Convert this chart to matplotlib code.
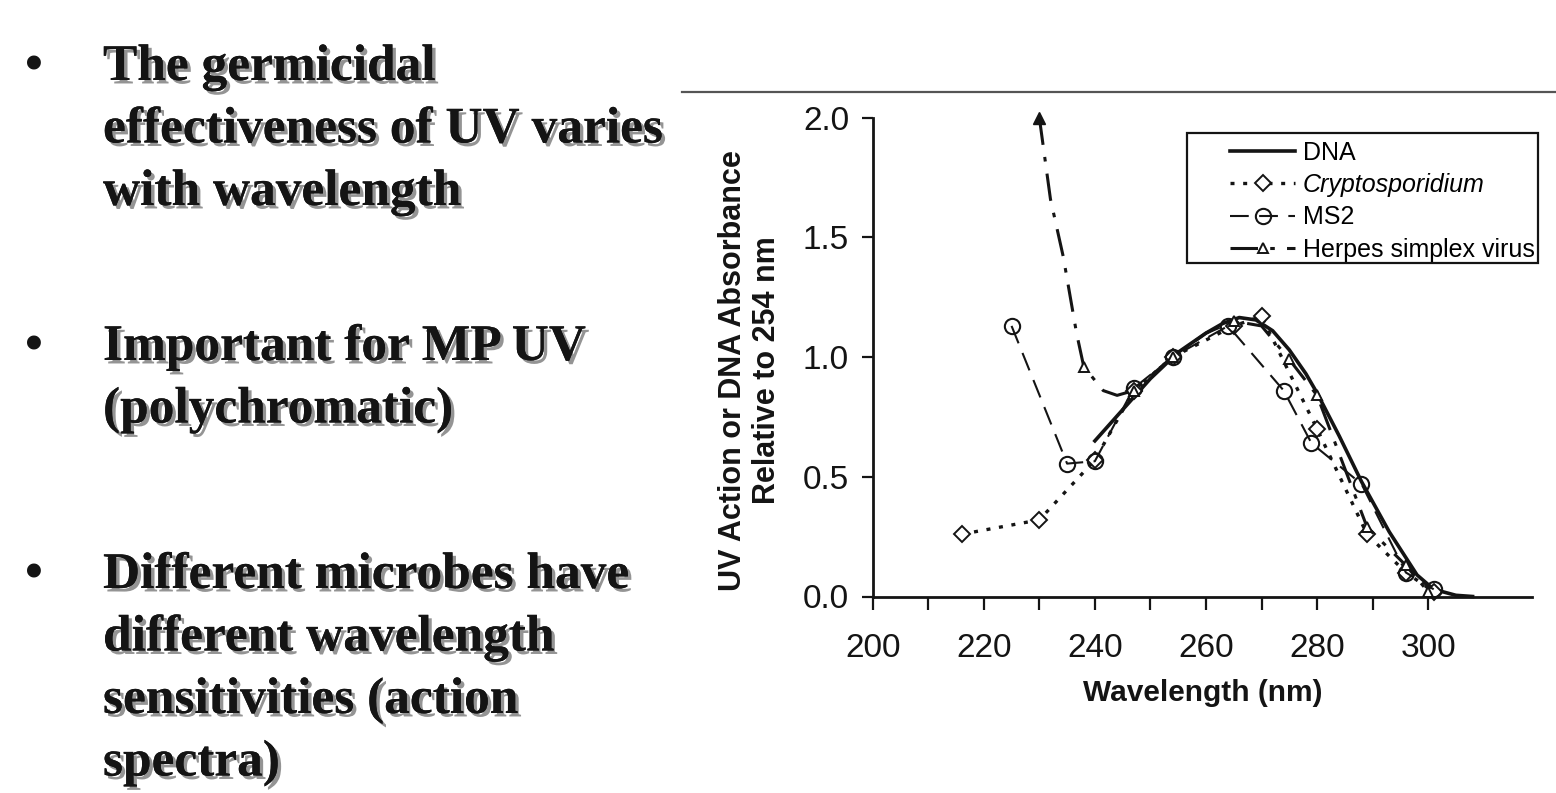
import matplotlib
matplotlib.use("Agg")
import matplotlib.pyplot as plt
import matplotlib.patheffects as pe
from matplotlib.lines import Line2D
from matplotlib.patches import Rectangle

# ── Data ──────────────────────────────────────────────────────────────────────

dna_wl = [240, 245, 250, 255, 260, 263, 266, 269, 272, 275, 278, 280, 284, 288, 293, 298, 301, 305, 308]
dna_val = [0.65, 0.78, 0.91, 1.02, 1.10, 1.14, 1.165, 1.155, 1.11, 1.03, 0.93, 0.85, 0.67, 0.48, 0.27, 0.09, 0.03, 0.005, 0.0]

crypto_wl = [216, 230, 240, 247, 254, 265, 270, 280, 289, 296, 301]
crypto_val = [0.26, 0.32, 0.57, 0.86, 1.00, 1.13, 1.17, 0.70, 0.26, 0.10, 0.02]

ms2_wl = [225, 235, 240, 247, 254, 264, 274, 279, 288, 296, 301]
ms2_val = [1.13, 0.555, 0.565, 0.87, 1.00, 1.13, 0.86, 0.64, 0.47, 0.10, 0.03]

hsv_wl = [230, 232, 234.3, 236.7, 238, 241.5, 244, 247, 254, 260, 265, 270, 275, 280, 289, 296, 300]
hsv_val = [2.0, 1.66, 1.42, 1.10, 0.96, 0.86, 0.84, 0.86, 1.00, 1.10, 1.15, 1.13, 0.99, 0.84, 0.29, 0.13, 0.02]
hsv_marked = [4, 7, 8, 10, 12, 13, 14, 15, 16]

series_names = ["DNA", "Cryptosporidium", "MS2", "Herpes simplex virus"]

bullets = [
    ["The germicidal", "effectiveness of UV varies", "with wavelength"],
    ["Important for MP UV", "(polychromatic)"],
    ["Different microbes have", "different wavelength", "sensitivities (action", "spectra)"],
]
bullet_top_px = [80, 360, 588]

# ── Figure ────────────────────────────────────────────────────────────────────

W, H = 1556, 793
fig = plt.figure(figsize=(W / 100, H / 100), dpi=100)
fig.patch.set_facecolor("white")

INK = "#141414"
SANS = "Liberation Sans"
SERIF = "Liberation Serif"

# slide text on the left
shadow = [pe.withSimplePatchShadow(offset=(2.5, -2.5), shadow_rgbFace="#7a7a7a", alpha=0.8), pe.Normal()]
line_step = 62.5
for lines, base in zip(bullets, bullet_top_px):
    fig.text(34 / W, 1 - base / H, "\u2022", fontsize=37, fontfamily=SERIF,
             fontweight="bold", color=INK, ha="center", va="baseline")
    for i, txt in enumerate(lines):
        fig.text(103 / W, 1 - (base + i * line_step) / H, txt, fontsize=37,
                 fontfamily=SERIF, fontweight="bold", color=INK, ha="left",
                 va="baseline", path_effects=shadow)

# thin rule at the top of the scanned figure
fig.add_artist(Line2D([682 / W, 1.0], [1 - 92 / H, 1 - 92 / H], color="#555555", lw=1.6))

# ── Axes ──────────────────────────────────────────────────────────────────────

x0, x1 = 872.7, 1532
y0, y1 = 596.5, 117.6
ax = fig.add_axes([x0 / W, 1 - y0 / H, (x1 - x0) / W, (y0 - y1) / H])
ax.set_xlim(200, 318.7)
ax.set_ylim(0, 2.0)

ax.plot(dna_wl, dna_val, color=INK, lw=2.6, ls="-", clip_on=False, label=series_names[0])
ax.plot(crypto_wl, crypto_val, color=INK, lw=2.4, ls=(0, (1.2, 2.6)), marker="D", ms=8,
        mfc="white", mec=INK, mew=1.4, clip_on=False, label=series_names[1])
ax.plot(ms2_wl, ms2_val, color=INK, lw=1.5, ls=(0, (9, 5)), marker="o", ms=11,
        mfc="none", mec=INK, mew=1.5, clip_on=False, label=series_names[2])
ax.plot(hsv_wl, hsv_val, color=INK, lw=2.2, ls=(0, (9, 4, 1.5, 4)), marker="^", ms=7,
        mfc="white", mec=INK, mew=1.4, markevery=hsv_marked, clip_on=False,
        label=series_names[3])
# filled arrow-like start point of the herpes curve
ax.plot(hsv_wl[:1], hsv_val[:1], ls="none", marker="^", ms=8, color=INK, clip_on=False)

for side in ["top", "right"]:
    ax.spines[side].set_visible(False)
for side in ["left", "bottom"]:
    ax.spines[side].set_linewidth(2.0)
    ax.spines[side].set_color(INK)

ax.set_yticks([0, 0.5, 1.0, 1.5, 2.0])
ax.set_yticklabels(["0.0", "0.5", "1.0", "1.5", "2.0"])
ax.set_xticks([200, 220, 240, 260, 280, 300])
ax.set_xticks([210, 230, 250, 270, 290], minor=True)
ax.tick_params(axis="y", direction="out", length=8, width=1.6, pad=9, labelsize=24, colors=INK)
ax.tick_params(axis="x", which="both", direction="out", length=9, width=1.6, colors=INK)
ax.tick_params(axis="x", which="major", pad=17, labelsize=24)
for lab in ax.get_xticklabels() + ax.get_yticklabels():
    lab.set_fontfamily(SANS)

ax.set_xlabel("Wavelength (nm)", fontsize=21.5, fontweight="bold", fontfamily=SANS,
              color=INK, labelpad=11)
ax.set_ylabel("UV Action or DNA Absorbance\nRelative to 254 nm", fontsize=22,
              fontweight="bold", fontfamily=SANS, color=INK, linespacing=1.15)
ax.yaxis.set_label_coords(-0.138, 0.472)

# legend with a hand-placed frame, like the original
leg = ax.legend(loc="upper left", bbox_to_anchor=(0.535, 0.962), frameon=False,
                prop={"family": SANS, "size": 18}, handlelength=2.6, handletextpad=0.3,
                labelspacing=0.33, borderaxespad=0, borderpad=0.2)
for t in leg.get_texts():
    if t.get_text() == "Cryptosporidium":
        t.set_fontstyle("italic")

frame_x0 = (1187 - x0) / (x1 - x0)
frame_x1 = (1538 - x0) / (x1 - x0)
frame_y0 = (y0 - 263) / (y0 - y1)
frame_y1 = (y0 - 133) / (y0 - y1)
ax.add_patch(Rectangle((frame_x0, frame_y0), frame_x1 - frame_x0, frame_y1 - frame_y0,
                       transform=ax.transAxes, fill=False, ec=INK, lw=1.6, clip_on=False))

fig.savefig("out.png", dpi=100)
